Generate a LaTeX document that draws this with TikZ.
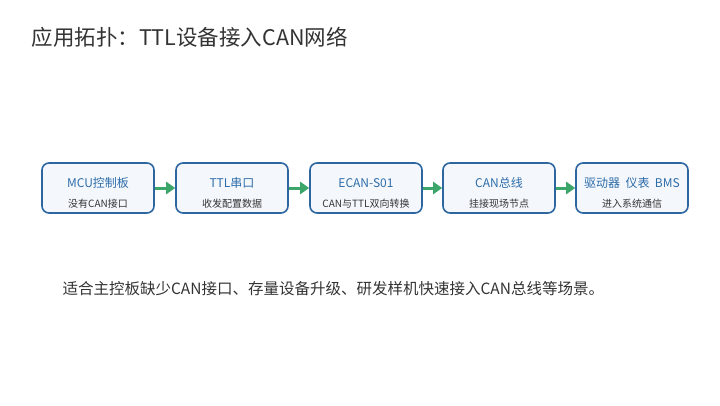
\documentclass[tikz,border=0pt]{standalone}
\usepackage{fontspec}
\setmainfont{Noto Sans CJK SC}
\usetikzlibrary{arrows.meta}
\definecolor{bd}{HTML}{2E67A0}
\definecolor{fillb}{HTML}{F4F8FD}
\definecolor{tb}{HTML}{2E6CA8}
\definecolor{ar}{HTML}{3BA56A}
\definecolor{tt}{HTML}{333333}
\begin{document}
\begin{tikzpicture}[x=1pt,y=1pt,
 box/.style={draw=bd,line width=1.6pt,fill=fillb,rounded corners=7pt,minimum width=112pt,minimum height=50pt},
 top/.style={text=tb,font=\fontsize{12}{12}\selectfont},
 bot/.style={text=tt,font=\fontsize{10}{10}\selectfont},
 arr/.style={draw=ar,line width=3pt,-{Triangle[length=9pt,width=12pt]}}]
\useasboundingbox (0,0) rectangle (720,405);
\node[anchor=west,text=tt,font=\fontsize{21.5}{22}\selectfont] (title) at (28,368) {应用拓扑：TTL设备接入CAN网络};
\foreach \n/\x/\a/\b in {b1/98/MCU控制板/没有CAN接口, b2/232/TTL串口/收发配置数据, b3/366/ECAN-S01/CAN与TTL双向转换, b4/499/CAN总线/挂接现场节点, b5/632/驱动器\ \ 仪表\ \ BMS/进入系统通信}{
 \node[box] (\n) at (\x,217) {};
 \node[top] (\n t) at (\x,222) {\a};
 \node[bot] (\n s) at (\x,201) {\b};
}
\draw[arr] (b1) -- (b2);
\draw[arr] (b2) -- (b3);
\draw[arr] (b3) -- (b4);
\draw[arr] (b4) -- (b5);
\node[anchor=west,text=tt,font=\fontsize{15.5}{16}\selectfont] (txt) at (59,116) {适合主控板缺少CAN接口、存量设备升级、研发样机快速接入CAN总线等场景。};
\end{tikzpicture}
\end{document}
